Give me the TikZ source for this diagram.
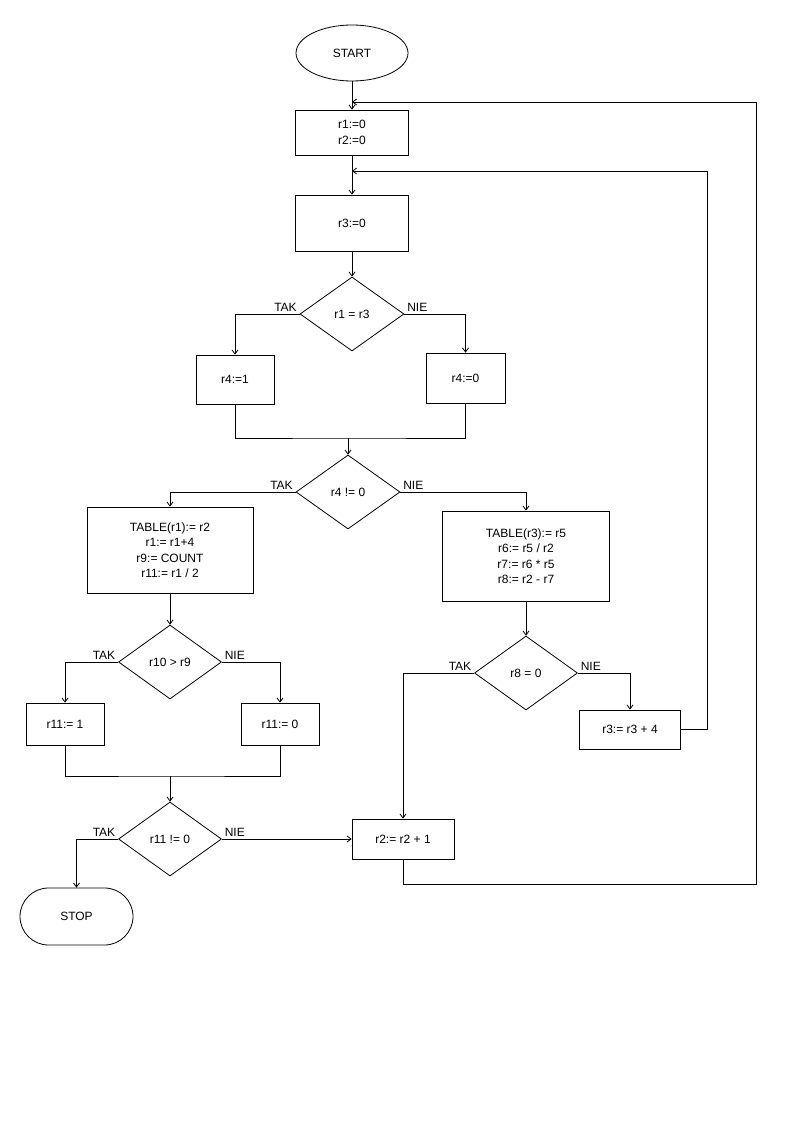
\documentclass[tikz,border=0pt]{standalone}
\usepackage{fontspec}
\setmainfont{Liberation Sans}
\usepackage{tikz}
\usetikzlibrary{positioning}
\usetikzlibrary{arrows.meta}
\usetikzlibrary{shapes.geometric, shapes.misc, calc}

\begin{document}
\begin{tikzpicture}[x=1pt, y=-1pt, line width=0.8pt,
		font=\fontsize{12}{15.5}\selectfont,
		>={Straight Barb[length=4pt,width=6pt]},
		proc/.style={draw, rectangle, align=center, inner sep=0pt},
		decision/.style={draw, diamond, inner sep=0pt, minimum width=104pt, minimum height=74pt},
		yes/.style={above left, inner sep=2.5pt},
		no/.style={above right, inner sep=2.5pt}]
			\useasboundingbox (0,0) rectangle (794,1123);

			% Terminals
			\node[draw, ellipse, inner sep=0pt, minimum width=112pt, minimum height=56pt] (start) at (352,53) {START};
			\node[draw, rounded rectangle, inner sep=0pt, minimum width=113pt, minimum height=57pt] (stop) at (76.5,916.5) {STOP};

			% Process boxes
			\node[proc, minimum width=113pt, minimum height=45pt] (init) at (352,132.5) {r1:=0\\r2:=0};
			\node[proc, minimum width=113pt, minimum height=56pt] (zero3) at (352,223) {r3:=0};
			\node[proc, minimum width=78pt, minimum height=49pt] (set41) at (235,379.5) {r4:=1};
			\node[proc, minimum width=79pt, minimum height=50pt] (set40) at (465.5,378) {r4:=0};
			\node[proc, minimum width=166pt, minimum height=86pt] (tab1) at (170,550) {TABLE(r1):= r2\\r1:= r1+4\\r9:= COUNT\\r11:= r1 / 2};
			\node[proc, minimum width=167pt, minimum height=90pt] (tab3) at (526,556) {TABLE(r3):= r5\\r6:= r5 / r2\\r7:= r6 * r5\\r8:= r2 - r7};
			\node[proc, minimum width=78pt, minimum height=42pt] (set111) at (65,724) {r11:= 1};
			\node[proc, minimum width=78pt, minimum height=42pt] (set110) at (280,724) {r11:= 0};
			\node[proc, minimum width=101pt, minimum height=39pt] (inc3) at (630,729.5) {r3:= r3 + 4};
			\node[proc, minimum width=102pt, minimum height=40pt] (inc2) at (403,839) {r2:= r2 + 1};

			% Decisions
			\node[decision] (d1) at (352,314) {r1 = r3};
			\node[decision] (d2) at (348,492) {r4 != 0};
			\node[decision, minimum width=103pt] (d3) at (170,662) {r10 > r9};
			\node[decision, minimum width=103pt] (d4) at (170,839) {r11 != 0};
			\node[decision, minimum width=103pt] (d5) at (526,673) {r8 = 0};

			% Branch labels
			\node[yes] (y1) at (d1.west) {TAK};
			\node[no] (n1) at (d1.east) {NIE};
			\node[yes] (y2) at (d2.west) {TAK};
			\node[no] (n2) at (d2.east) {NIE};
			\node[yes] (y3) at (d3.west) {TAK};
			\node[no] (n3) at (d3.east) {NIE};
			\node[yes] (y4) at (d4.west) {TAK};
			\node[no] (n4) at (d4.east) {NIE};
			\node[yes] (y5) at (d5.west) {TAK};
			\node[no] (n5) at (d5.east) {NIE};

			% Join points
			\coordinate (m1) at (348,438);
			\coordinate (m2) at (170,776);
			\coordinate (jA) at (352,102);
			\coordinate (jB) at (352,171);
			\coordinate (outA) at (756,884);
			\coordinate (outB) at (756,102);
			\coordinate (inA) at (707,729.5);
			\coordinate (inB) at (707,171);

			% Main flow
			\draw[->] (start) -- (init);
			\draw[->] (init) -- (zero3);
			\draw[->] (zero3) -- (d1);
			\draw[->] (d1.west) -| (set41.north);
			\draw[->] (d1.east) -| (set40.north);
			\draw (set41.south) |- (m1) -| (set40.south);
			\draw[->] (m1) -- (d2.north);
			\draw[->] (d2.west) -| (tab1.north);
			\draw[->] (d2.east) -| (tab3.north);

			% Left branch
			\draw[->] (tab1) -- (d3);
			\draw[->] (d3.west) -| (set111.north);
			\draw[->] (d3.east) -| (set110.north);
			\draw (set111.south) |- (m2) -| (set110.south);
			\draw[->] (m2) -- (d4.north);
			\draw[->] (d4.west) -| (stop.north);
			\draw[->] (d4.east) -- (inc2.west);

			% Right branch
			\draw[->] (tab3) -- (d5);
			\draw[->] (d5.west) -| (inc2.north);
			\draw[->] (d5.east) -| (inc3.north);

			% Loops back
			\draw[->] (inc3.east) -- (inA) -- (inB) -- (jB);
			\draw[->] (inc2.south) |- (outA) -- (outB) -- (jA);

		\end{tikzpicture}
\end{document}
